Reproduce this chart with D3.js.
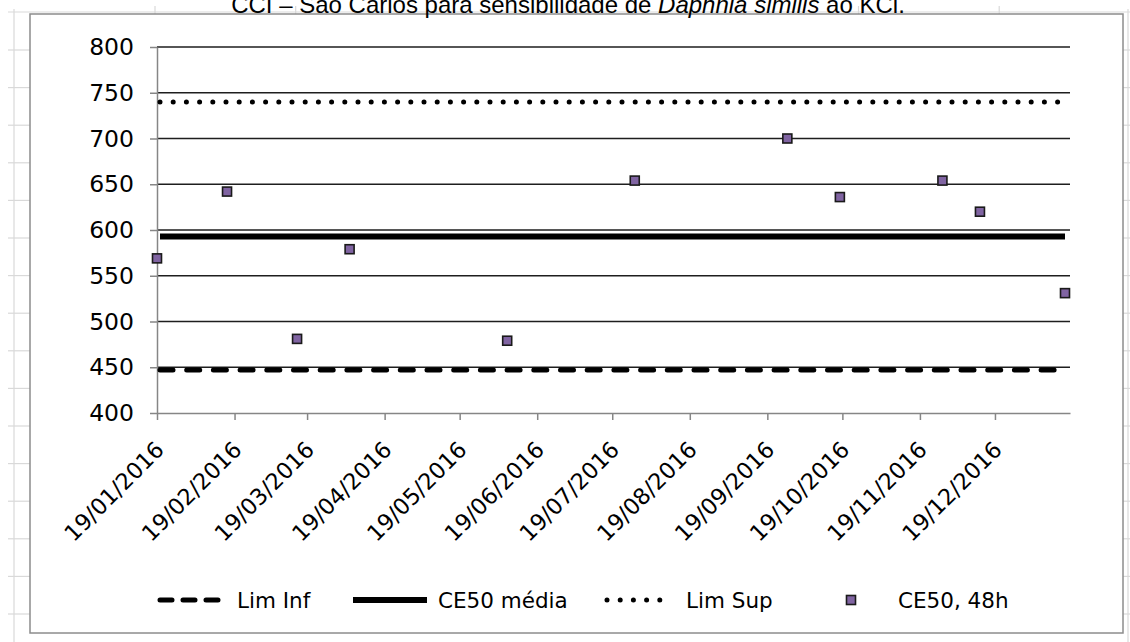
<!DOCTYPE html>
<html lang="pt">
<head>
<meta charset="UTF-8">
<title>CE50 Daphnia similis</title>
<script src="https://d3js.org/d3.v7.min.js"></script>
<style>
  body { margin: 0; background: #fff; }
  svg { display: block; }
  .tick-label { font-family: "DejaVu Sans", Verdana, sans-serif; fill: #000; }
</style>
</head>
<body>
<div id="chart"></div>
<script>
// ---- data ----
const testDates = ["2016-01-19", "2016-02-16", "2016-03-15", "2016-04-05", "2016-06-07", "2016-07-28",
                   "2016-09-27", "2016-10-18", "2016-11-28", "2016-12-13", "2017-01-16"];
const ce50Values = [569, 642, 481, 579, 479, 654, 700, 636, 654, 620, 531];
const limInf = 447;
const ce50Media = 593;
const limSup = 740;
const xTickDates = ["2016-01-19", "2016-02-19", "2016-03-19", "2016-04-19", "2016-05-19", "2016-06-19",
                    "2016-07-19", "2016-08-19", "2016-09-19", "2016-10-19", "2016-11-19", "2016-12-19"];
const yTicks = [400, 450, 500, 550, 600, 650, 700, 750, 800];
const legendLabels = ["Lim Inf", "CE50 média", "Lim Sup", "CE50, 48h"];

const W = 1130, H = 642;
const parse = d3.timeParse("%Y-%m-%d");
const fmt = d3.timeFormat("%d/%m/%Y");

const svg = d3.select("#chart").append("svg")
    .attr("width", W).attr("height", H);

// spreadsheet cell grid peeking around the chart object
const sheet = svg.append("g").attr("stroke", "#d9d9d9").attr("stroke-width", 1.2);
sheet.append("line").attr("x1", 14).attr("x2", 14).attr("y1", 9).attr("y2", H);
sheet.append("line").attr("x1", 1128).attr("x2", 1128).attr("y1", 9).attr("y2", H);
sheet.append("line").attr("x1", 8).attr("x2", W).attr("y1", 12).attr("y2", 12);
d3.range(50, H, 37.6).forEach(y => {
  sheet.append("line").attr("x1", 8).attr("x2", 30).attr("y1", y).attr("y2", y);
  sheet.append("line").attr("x1", 1123).attr("x2", W).attr("y1", y).attr("y2", y);
});
d3.range(155, W, 140.7).forEach(x => {
  sheet.append("line").attr("x1", x).attr("x2", x).attr("y1", 6).attr("y2", 14);
});

// chart object frame
svg.append("rect")
   .attr("x", 30).attr("y", 14).attr("width", 1093).attr("height", 619)
   .attr("fill", "#fff").attr("stroke", "#8c8c8c").attr("stroke-width", 1.5);

// title (cut off at top, as in the original)
const title = svg.append("text")
   .attr("x", 568).attr("y", 13)
   .attr("text-anchor", "middle")
   .style("font-family", "'Liberation Sans', Arial, sans-serif")
   .style("font-size", "24px")
   .attr("fill", "#000");
title.append("tspan").text("CCI – São Carlos para sensibilidade de ");
title.append("tspan").style("font-style", "italic").text("Daphnia similis");
title.append("tspan").text(" ao KCl.");

// scales
const x = d3.scaleTime()
    .domain([parse("2016-01-19"), parse("2017-01-18")])
    .range([157, 1070]);
const y = d3.scaleLinear()
    .domain([400, 800])
    .range([413, 47]);

// horizontal gridlines
svg.append("g")
   .selectAll("line")
   .data(yTicks.filter(v => v > 400))
   .join("line")
   .attr("x1", x.range()[0]).attr("x2", x.range()[1])
   .attr("y1", d => y(d)).attr("y2", d => y(d))
   .attr("stroke", "#1e1e1e").attr("stroke-width", 1.6);

// y axis
const yAxis = svg.append("g")
   .attr("transform", `translate(${x.range()[0]},0)`)
   .call(d3.axisLeft(y).tickValues(yTicks).tickSize(7).tickPadding(16).tickSizeOuter(0));
yAxis.select(".domain").attr("stroke", "#868686").attr("stroke-width", 1.5);
yAxis.selectAll(".tick line").attr("stroke", "#868686").attr("stroke-width", 1.5);
yAxis.selectAll(".tick text")
     .attr("class", "tick-label")
     .style("font-size", "23.5px");

// x axis
const xAxis = svg.append("g")
   .attr("transform", `translate(0,${y(400)})`)
   .call(d3.axisBottom(x).tickValues(xTickDates.map(parse)).tickFormat(fmt).tickSize(7).tickSizeOuter(0));
xAxis.select(".domain").attr("stroke", "#868686").attr("stroke-width", 1.5);
xAxis.selectAll(".tick line").attr("stroke", "#868686").attr("stroke-width", 1.5);
xAxis.selectAll(".tick text")
     .attr("class", "tick-label")
     .style("font-size", "22.5px")
     .attr("text-anchor", "end")
     .attr("y", 0).attr("dy", 0)
     .attr("transform", "translate(8,38) rotate(-45)");

// reference lines
const xStart = x(parse(testDates[0]));
const xEnd = x(parse(testDates[testDates.length - 1]));
const refs = [
  { v: limInf, dash: "13 13.7", width: 5, cap: "round" },
  { v: ce50Media, dash: null, width: 6, cap: "butt" },
  { v: limSup, dash: "0 13.2", width: 5, cap: "round" }
];
svg.append("g")
   .selectAll("line")
   .data(refs)
   .join("line")
   .attr("x1", xStart + 3).attr("x2", xEnd)
   .attr("y1", d => y(d.v)).attr("y2", d => y(d.v))
   .attr("stroke", "#000")
   .attr("stroke-width", d => d.width)
   .attr("stroke-linecap", d => d.cap)
   .attr("stroke-dasharray", d => d.dash);

// CE50 48h markers
svg.append("g")
   .selectAll("rect")
   .data(testDates.map((d, i) => ({ date: parse(d), v: ce50Values[i] })))
   .join("rect")
   .attr("x", d => x(d.date) - 4.5)
   .attr("y", d => y(d.v) - 4.5)
   .attr("width", 9).attr("height", 9)
   .attr("fill", "#8064a2")
   .attr("stroke", "#1a1a1a").attr("stroke-width", 1.6);

// legend
const legY = 600;
const leg = svg.append("g").style("font-family", "'DejaVu Sans', Verdana, sans-serif").style("font-size", "21.5px");
const legItems = [
  { x0: 160, x1: 224, tx: 237, dash: "12 11", width: 5, cap: "round" },
  { x0: 353, x1: 427, tx: 438, dash: null, width: 6, cap: "butt" },
  { x0: 607, x1: 672, tx: 686, dash: "0 13.2", width: 5, cap: "round" }
];
legItems.forEach((it, i) => {
  leg.append("line")
     .attr("x1", it.x0).attr("x2", it.x1).attr("y1", legY).attr("y2", legY)
     .attr("stroke", "#000").attr("stroke-width", it.width)
     .attr("stroke-linecap", it.cap).attr("stroke-dasharray", it.dash);
  leg.append("text").attr("x", it.tx).attr("y", legY).attr("dy", "0.36em").text(legendLabels[i]);
});
leg.append("rect")
   .attr("x", 851 - 4.5).attr("y", legY - 4.5).attr("width", 9).attr("height", 9)
   .attr("fill", "#8064a2").attr("stroke", "#1a1a1a").attr("stroke-width", 1.6);
leg.append("text").attr("x", 898).attr("y", legY).attr("dy", "0.36em").text(legendLabels[3]);
</script>
</body>
</html>
